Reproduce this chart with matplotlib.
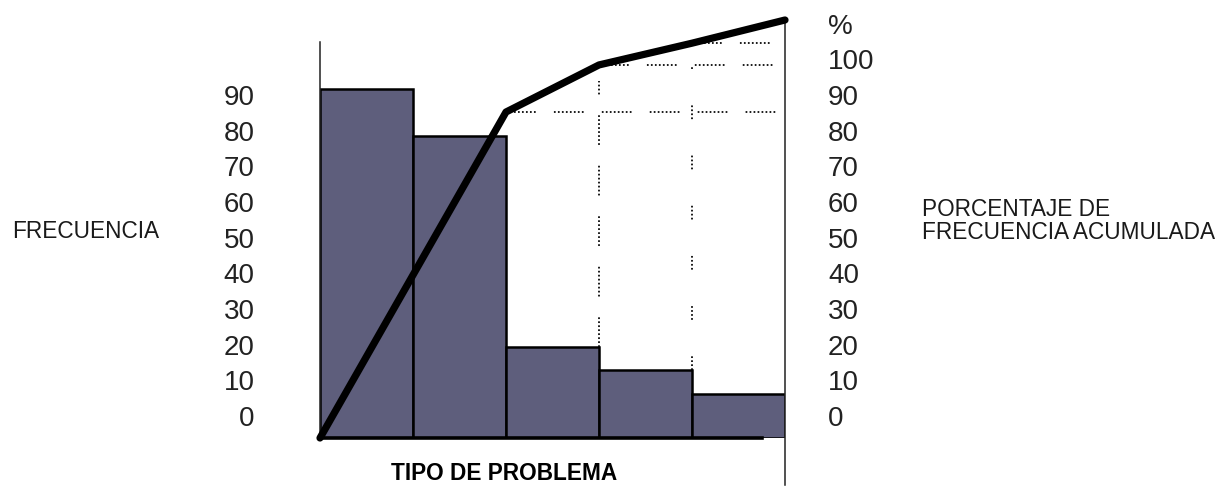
import matplotlib
matplotlib.use("Agg")
import matplotlib.pyplot as plt

# Pareto data: frequency per problem type and the cumulative percentage curve
problem_types = ["A", "B", "C", "D", "E"]
frequency = [97.8, 84.7, 25.5, 19.1, 12.3]
cumulative_pct = [0, 45.7, 91.4, 104.6, 110.7, 117.2]
left_ticks = [0, 10, 20, 30, 40, 50, 60, 70, 80, 90]
right_ticks = [0, 10, 20, 30, 40, 50, 60, 70, 80, 90, 100, 110]
right_labels = ["0", "10", "20", "30", "40", "50", "60", "70", "80", "90", "100", "%"]

plt.rcParams["font.family"] = ["Liberation Sans", "DejaVu Sans"]

W, H, DPI = 1229, 488, 100
fig = plt.figure(figsize=(W / DPI, H / DPI), dpi=DPI)
fig.patch.set_facecolor("white")

# axes box in pixels
x0, x1 = 320, 785
y_base, y_top = 438, 20
ax = fig.add_axes([x0 / W, (H - y_base) / H, (x1 - x0) / W, (y_base - y_top) / H])
ax.set_facecolor("none")
ymax = 117.2
label_lift = 6.17  # tick labels sit slightly above their gridline level
ax.set_xlim(0, len(problem_types))
ax.set_ylim(0, ymax)

bar_color = "#5e5e7c"
xs = list(range(len(problem_types)))
ax.bar(xs, frequency, width=1.0, align="edge", color=bar_color,
       edgecolor="black", linewidth=1.8, zorder=2)

# right axis for the cumulative percentage
ax2 = ax.twinx()
ax2.set_ylim(0, ymax)
ax2.set_facecolor("none")

cum_x = list(range(len(cumulative_pct)))


def dotted_dash(n_dots, gap):
    """Dash pattern made of small dots followed by a longer gap."""
    return [1.0, 1.3] * (n_dots - 1) + [1.0, gap]


# dotted reference lines from the curve to the right axis and down to bars
grid_kw = dict(color="black", linewidth=1.25, zorder=1)
for i in (2, 3, 4):
    ax2.plot([cum_x[i], len(problem_types)], [cumulative_pct[i]] * 2,
             dashes=dotted_dash(8, 10.5), **grid_kw)
ax2.plot([3, 3], [frequency[2], cumulative_pct[3] - 4.5],
         dashes=dotted_dash(8, 12), **grid_kw)
ax2.plot([4, 4], [frequency[3], cumulative_pct[3]],
         dashes=dotted_dash(4, 21), **grid_kw)

ax2.plot(cum_x, cumulative_pct, color="black", linewidth=5.2,
         solid_capstyle="round", solid_joinstyle="round", clip_on=False, zorder=5)

# spines
ax.spines["top"].set_visible(False)
ax2.spines["top"].set_visible(False)
ax.spines["right"].set_visible(False)
ax2.spines["left"].set_visible(False)
ax2.spines["bottom"].set_visible(False)

ax.spines["left"].set_bounds(0, 111)
ax.spines["left"].set_linewidth(1.1)
ax.spines["left"].set_color("#222222")
ax.spines["bottom"].set_bounds(0, 4.75)
ax.spines["bottom"].set_linewidth(2.6)
ax.spines["bottom"].set_color("black")
ax2.spines["right"].set_bounds(-13.2, 117.8)
ax2.spines["right"].set_linewidth(1.1)
ax2.spines["right"].set_color("#222222")
ax2.spines["right"].set_clip_on(False)

tick_font = dict(fontsize=20, color="#222222")
ax.set_xticks([])
ax.set_yticks([t + label_lift for t in left_ticks])
ax.set_yticklabels([str(t) for t in left_ticks], **tick_font)
ax.tick_params(axis="y", length=0, pad=47)

ax2.set_yticks([t + label_lift for t in right_ticks])
ax2.set_yticklabels(right_labels, **tick_font)
ax2.tick_params(axis="y", length=0, pad=31)

# axis titles
fig.text(12 / W, 1 - 232 / H, "FRECUENCIA", fontsize=16.3, color="#1a1a1a",
         ha="left", va="center")
fig.text(922 / W, 1 - 221 / H, "PORCENTAJE DE\nFRECUENCIA ACUMULADA", fontsize=16.3,
         color="#1a1a1a", ha="left", va="center", linespacing=1.0)
fig.text(504 / W, 1 - 473 / H, "TIPO DE PROBLEMA", fontsize=16.3, fontweight="bold",
         color="black", ha="center", va="center")

fig.savefig("out.png", dpi=DPI, facecolor="white")
